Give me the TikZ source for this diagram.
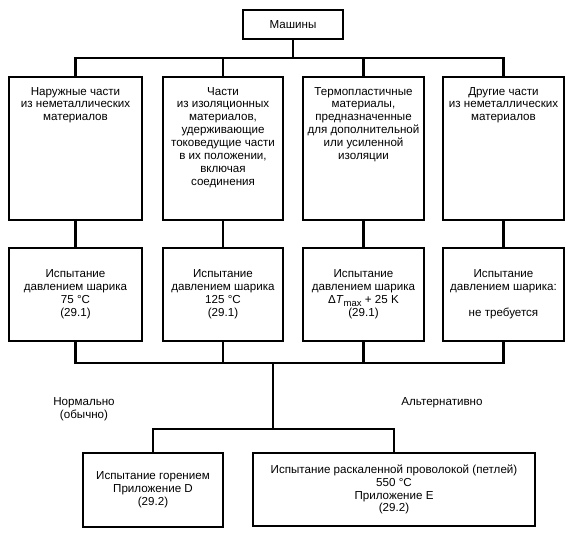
\documentclass[tikz,border=0pt]{standalone}
\usepackage{fontspec}
\setmainfont{Liberation Sans}
\begin{document}
\begin{tikzpicture}[x=1pt,y=-1pt,
  every node/.style={font=\fontsize{11.6}{12.9}\selectfont},
  box/.style={draw,line width=2.1pt,inner sep=0pt,align=center},
  conn/.style={line width=2.1pt,line cap=rect},
  plain/.style={inner sep=0pt,align=center}]
\useasboundingbox (0,0) rectangle (573,534);
\newcommand{\topbox}[2]{\parbox[c][143pt][t]{#1}{\centering\vspace*{9pt}\strut #2}}
% top
\node[box,minimum width=100,minimum height=29] (m) at (293,24.5) {Машины};
% row 1
\node[box,minimum width=133,minimum height=143] (a1) at (75.5,148.5)
  {\topbox{128pt}{Наружные части\\из неметаллических\\материалов}};
\node[box,minimum width=120,minimum height=143] (a2) at (223,148.5)
  {\topbox{118pt}{Части\\из изоляционных\\материалов,\\удерживающие\\токоведущие части\\в их положении,\\включая\\соединения}};
\node[box,minimum width=121,minimum height=143] (a3) at (363.5,148.5)
  {\topbox{119pt}{Термопластичные\\материалы,\\предназначенные\\для дополнительной\\или усиленной\\изоляции}};
\node[box,minimum width=121,minimum height=143] (a4) at (503.5,148.5)
  {\topbox{119pt}{Другие части\\из неметаллических\\материалов}};
% row 2
\node[box,minimum width=133,minimum height=93] (b1) at (75.5,294.5)
  {Испытание\\давлением шарика\\75 °C\\(29.1)};
\node[box,minimum width=120,minimum height=93] (b2) at (223,294.5)
  {Испытание\\давлением шарика\\125 °C\\(29.1)};
\node[box,minimum width=121,minimum height=93] (b3) at (363.5,294.5)
  {Испытание\\давлением шарика\\Δ\textit{T}\raisebox{-3pt}{\fontsize{9.5}{10}\selectfont max} + 25 K\\(29.1)};
\node[box,minimum width=121,minimum height=93] (b4) at (503.5,294.5)
  {Испытание\\давлением шарика:\\~\\не требуется};
% row 3
\node[box,minimum width=140,minimum height=74] (c1) at (153,490)
  {Испытание горением\\Приложение D\\(29.2)};
\node[box,minimum width=282,minimum height=73] (c2) at (394,489.5)
  {Испытание раскаленной проволокой (петлей)\\550 °C\\Приложение E\\(29.2)};
% labels
\node[plain] (n1) at (84,409) {Нормально\\(обычно)};
\node[plain] (n2) at (442,403) {Альтернативно};
% buses
\coordinate (bus1) at (293,58);
\coordinate (bus2) at (273,363);
\coordinate (bus3) at (273,429);
\draw[conn] (m.south) -- (bus1);
\draw[conn] (a1.north) -- (a1.north |- bus1) -- (a4.north |- bus1) -- (a4.north);
\draw[conn] (a2.north) -- (a2.north |- bus1);
\draw[conn] (a3.north) -- (a3.north |- bus1);
\draw[conn] (a1.south) -- (b1.north);
\draw[conn] (a2.south) -- (b2.north);
\draw[conn] (a3.south) -- (b3.north);
\draw[conn] (a4.south) -- (b4.north);
\draw[conn] (b1.south) -- (b1.south |- bus2) -- (b4.south |- bus2) -- (b4.south);
\draw[conn] (b2.south) -- (b2.south |- bus2);
\draw[conn] (b3.south) -- (b3.south |- bus2);
\draw[conn] (bus2) -- (bus3);
\draw[conn] (c1.north) -- (c1.north |- bus3) -- (c2.north |- bus3) -- (c2.north);
\end{tikzpicture}
\end{document}
